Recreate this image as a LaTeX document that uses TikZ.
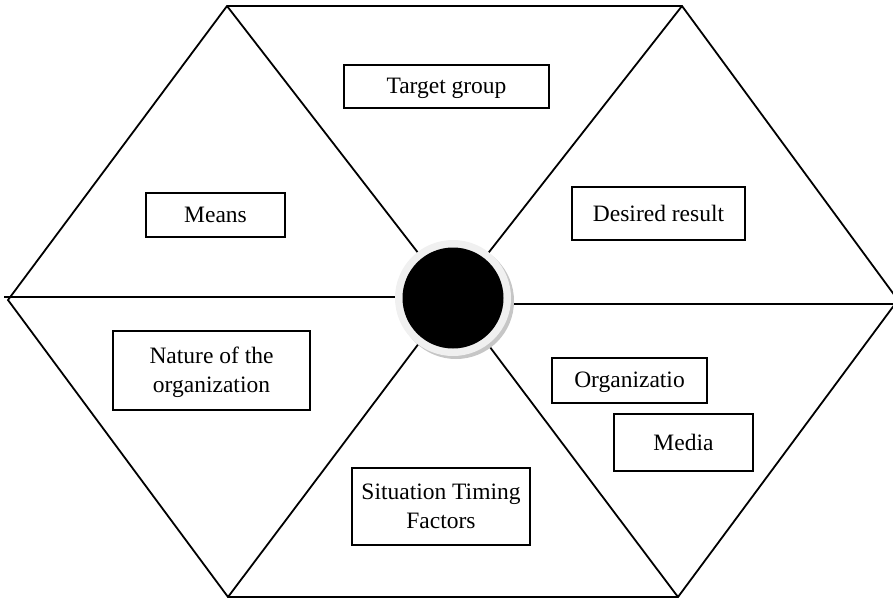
\documentclass[tikz,border=0pt]{standalone}
\usepackage{fontspec}
\setmainfont{Liberation Serif}
\usetikzlibrary{calc}
\begin{document}
\begin{tikzpicture}[x=1pt,y=-1pt,
  edge/.style={line width=1.8pt,black},
  lbl/.style={draw,line width=1.7pt,fill=white,inner sep=0pt,align=center,
    font=\fontsize{23.5}{29}\selectfont,text depth=1pt}]
\useasboundingbox (0,0) rectangle (893,599);
\begin{scope}
\clip (0,0) rectangle (893,599);
% hexagon vertices
\coordinate (tl) at (227,6);
\coordinate (tr) at (682,6);
\coordinate (r) at (898,300);
\coordinate (br) at (678,597);
\coordinate (bl) at (228,597);
\coordinate (l) at (8,300);
\coordinate (c) at (453,298);
\coordinate (lend) at (4,297);
\coordinate (rend) at (893,304);
\draw[edge,line join=miter] (tl) -- (tr) -- (r) -- (br) -- (bl) -- (l) -- cycle;
\draw[edge] (tl) -- (c);
\draw[edge] (tr) -- (c);
\draw[edge] (bl) -- (c);
\draw[edge] (br) -- (c);
\draw[edge] (lend) -- (c |- lend);
\draw[edge] (c |- rend) -- (rend);
\end{scope}
% central disc
\fill[gray!45] ($(c)+(3,3)$) circle (58);
\fill[gray!12] (c) circle (58);
\node[circle,fill=black,minimum size=101pt,inner sep=0pt] (hub) at (c) {};
% labels
\node[lbl,minimum width=205pt,minimum height=43pt] (target) at (446.5,86.5) {Target group};
\node[lbl,minimum width=139pt,minimum height=44pt] (means) at (215.5,215) {Means};
\node[lbl,minimum width=173pt,minimum height=53pt] (desired) at (658.5,213.5) {Desired result};
\node[lbl,minimum width=197pt,minimum height=79pt] (nature) at (211.5,370.5) {Nature of the\\organization};
\node[lbl,minimum width=155pt,minimum height=45pt] (org) at (629.5,380.5) {Organizatio};
\node[lbl,minimum width=139pt,minimum height=57pt] (media) at (683.5,442.5) {Media};
\node[lbl,minimum width=178pt,minimum height=77pt] (situation) at (441,506.5) {Situation Timing\\Factors};
\end{tikzpicture}
\end{document}
